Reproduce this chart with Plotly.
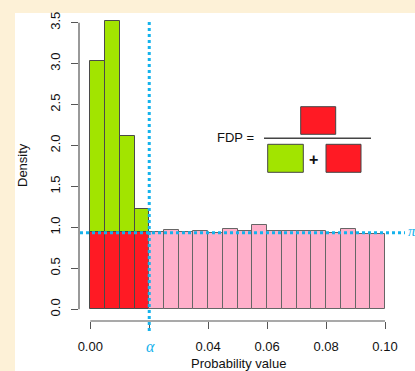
import plotly.graph_objects as go

# ---- data ----
bin_centers = [0.0025, 0.0075, 0.0125, 0.0175, 0.0225, 0.0275, 0.0325, 0.0375, 0.0425, 0.0475,
               0.0525, 0.0575, 0.0625, 0.0675, 0.0725, 0.0775, 0.0825, 0.0875, 0.0925, 0.0975]
density = [3.03, 3.52, 2.12, 1.22, 0.95, 0.97, 0.94, 0.96, 0.93, 0.985,
           0.955, 1.03, 0.955, 0.955, 0.955, 0.955, 0.93, 0.985, 0.92, 0.915]
bin_width = 0.005
pi0 = 0.945
alpha = 0.02
x_tickvals = [0.00, 0.02, 0.04, 0.06, 0.08, 0.10]
x_ticktext = ["0.00", "", "0.04", "0.06", "0.08", "0.10"]
y_tickvals = [0.0, 0.5, 1.0, 1.5, 2.0, 2.5, 3.0, 3.5]
y_ticktext = ["0.0", "0.5", "1.0", "1.5", "2.0", "2.5", "3.0", "3.5"]

GREEN = "#A2E400"
RED = "#FF1A24"
PINK = "#FFAFCA"
CYAN = "#14B2EC"
OUT = "#4a4a4a"
BEIGE = "#FDF1D7"

W, H = 415, 371
L, R, T, B = 79, 0, 13, 50
# pixel -> data mapping derived from axis calibration
x0_px, px_per_x = 90.3, 2947.0
y0_px, px_per_y = 309.3, 81.9
xr = [(L - x0_px) / px_per_x, (W - R - x0_px) / px_per_x]
yr = [-(H - B - y0_px) / px_per_y, (y0_px - T) / px_per_y]

def pxp(px):
    return (px - L) / (W - L - R)

def pyp(py):
    return (H - B - py) / (H - T - B)

sig_x = [c for c in bin_centers if c < alpha]
sig_d = [d for c, d in zip(bin_centers, density) if c < alpha]
ns_x = [c for c in bin_centers if c >= alpha]
ns_d = [d for c, d in zip(bin_centers, density) if c >= alpha]

fig = go.Figure()
fig.add_bar(x=sig_x, y=[pi0] * len(sig_x), width=bin_width, marker=dict(color=RED, line=dict(color=OUT, width=1)))
fig.add_bar(x=sig_x, y=[d - pi0 for d in sig_d], base=[pi0] * len(sig_x), width=bin_width,
            marker=dict(color=GREEN, line=dict(color=OUT, width=1)))
fig.add_bar(x=ns_x, y=ns_d, width=bin_width, marker=dict(color=PINK, line=dict(color="#666666", width=1)))

shapes = []
# white panel
shapes.append(dict(type="rect", xref="paper", yref="paper", x0=pxp(15), x1=pxp(W + 5), y0=pyp(H + 5), y1=pyp(13),
                   fillcolor="white", line=dict(width=0), layer="below"))
# axis lines (R style)
shapes.append(dict(type="line", xref="x", yref="paper", x0=0, x1=0.10, y0=0, y1=0, line=dict(color="#555555", width=1.2)))
shapes.append(dict(type="line", xref="paper", yref="y", x0=0, x1=0, y0=0, y1=3.5, line=dict(color="#555555", width=1.2)))
# dotted lines
shapes.append(dict(type="line", xref="x", yref="paper", x0=alpha, x1=alpha, y0=pyp(331), y1=pyp(22),
                   line=dict(color=CYAN, width=3, dash="dot")))
shapes.append(dict(type="line", xref="paper", yref="y", x0=pxp(80), x1=pxp(405), y0=pi0 - 0.01, y1=pi0 - 0.01,
                   line=dict(color=CYAN, width=3, dash="dot")))
# formula boxes
def box(x0, x1, y0, y1, color):
    return dict(type="rect", xref="paper", yref="paper", x0=pxp(x0), x1=pxp(x1), y0=pyp(y1), y1=pyp(y0),
                fillcolor=color, line=dict(color="#444444", width=1))
shapes.append(box(300.7, 335.7, 106.7, 134.3, RED))
shapes.append(dict(type="line", xref="paper", yref="paper", x0=pxp(264), x1=pxp(371), y0=pyp(138.3), y1=pyp(138.3),
                   line=dict(color="#444444", width=1.5)))
shapes.append(box(267.7, 303.3, 144.3, 172.3, GREEN))
shapes.append(box(326, 361, 144.3, 172.3, RED))

def ann(text, x, y, size, family="Liberation Sans, Arial, sans-serif", color="#111111", **kw):
    d = dict(text=text, xref="paper", yref="paper", x=pxp(x), y=pyp(y), showarrow=False,
             xanchor="center", yanchor="middle", font=dict(size=size, color=color, family=family))
    d.update(kw)
    return d

SERIF = "Liberation Serif, DejaVu Serif, serif"
annotations = [
    ann("FDP =", 235.5, 137, 13),
    ann("<b>+</b>", 313.5, 159, 16),
    ann("<i>α</i>", 150.5, 346.5, 16, family=SERIF, color=CYAN),
    ann("<i>π</i>", 405.5, 231, 15, family=SERIF, color=CYAN, xanchor="left"),
    ann("Density", 22, 165, 13, textangle=-90),
    ann("Probability value", 238, 363.5, 13),
]

fig.update_layout(
    width=W, height=H,
    margin=dict(l=L, r=R, t=T, b=B, pad=0),
    paper_bgcolor=BEIGE, plot_bgcolor="white",
    barmode="overlay", bargap=0, showlegend=False,
    shapes=shapes, annotations=annotations,
    font=dict(family="Liberation Sans, Arial, sans-serif", size=13, color="#111111"),
    xaxis=dict(range=xr, tickvals=x_tickvals, ticktext=x_ticktext, ticks="outside", ticklen=7,
               tickcolor="#555555", tickwidth=1.2, showgrid=False, zeroline=False, showline=False,
               tickfont=dict(size=13), ticklabelstandoff=6, automargin=False),
    yaxis=dict(range=yr, tickvals=y_tickvals, ticktext=y_ticktext, ticks="outside", ticklen=7,
               tickcolor="#555555", tickwidth=1.2, showgrid=False, zeroline=False, showline=False,
               tickangle=-90, tickfont=dict(size=13), ticklabelstandoff=6, automargin=False),
)
fig.write_html("out.html", config={"displayModeBar": False},
               post_script="document.body.style.margin='0';document.body.style.padding='0';"
                           "document.body.style.overflow='hidden';")
